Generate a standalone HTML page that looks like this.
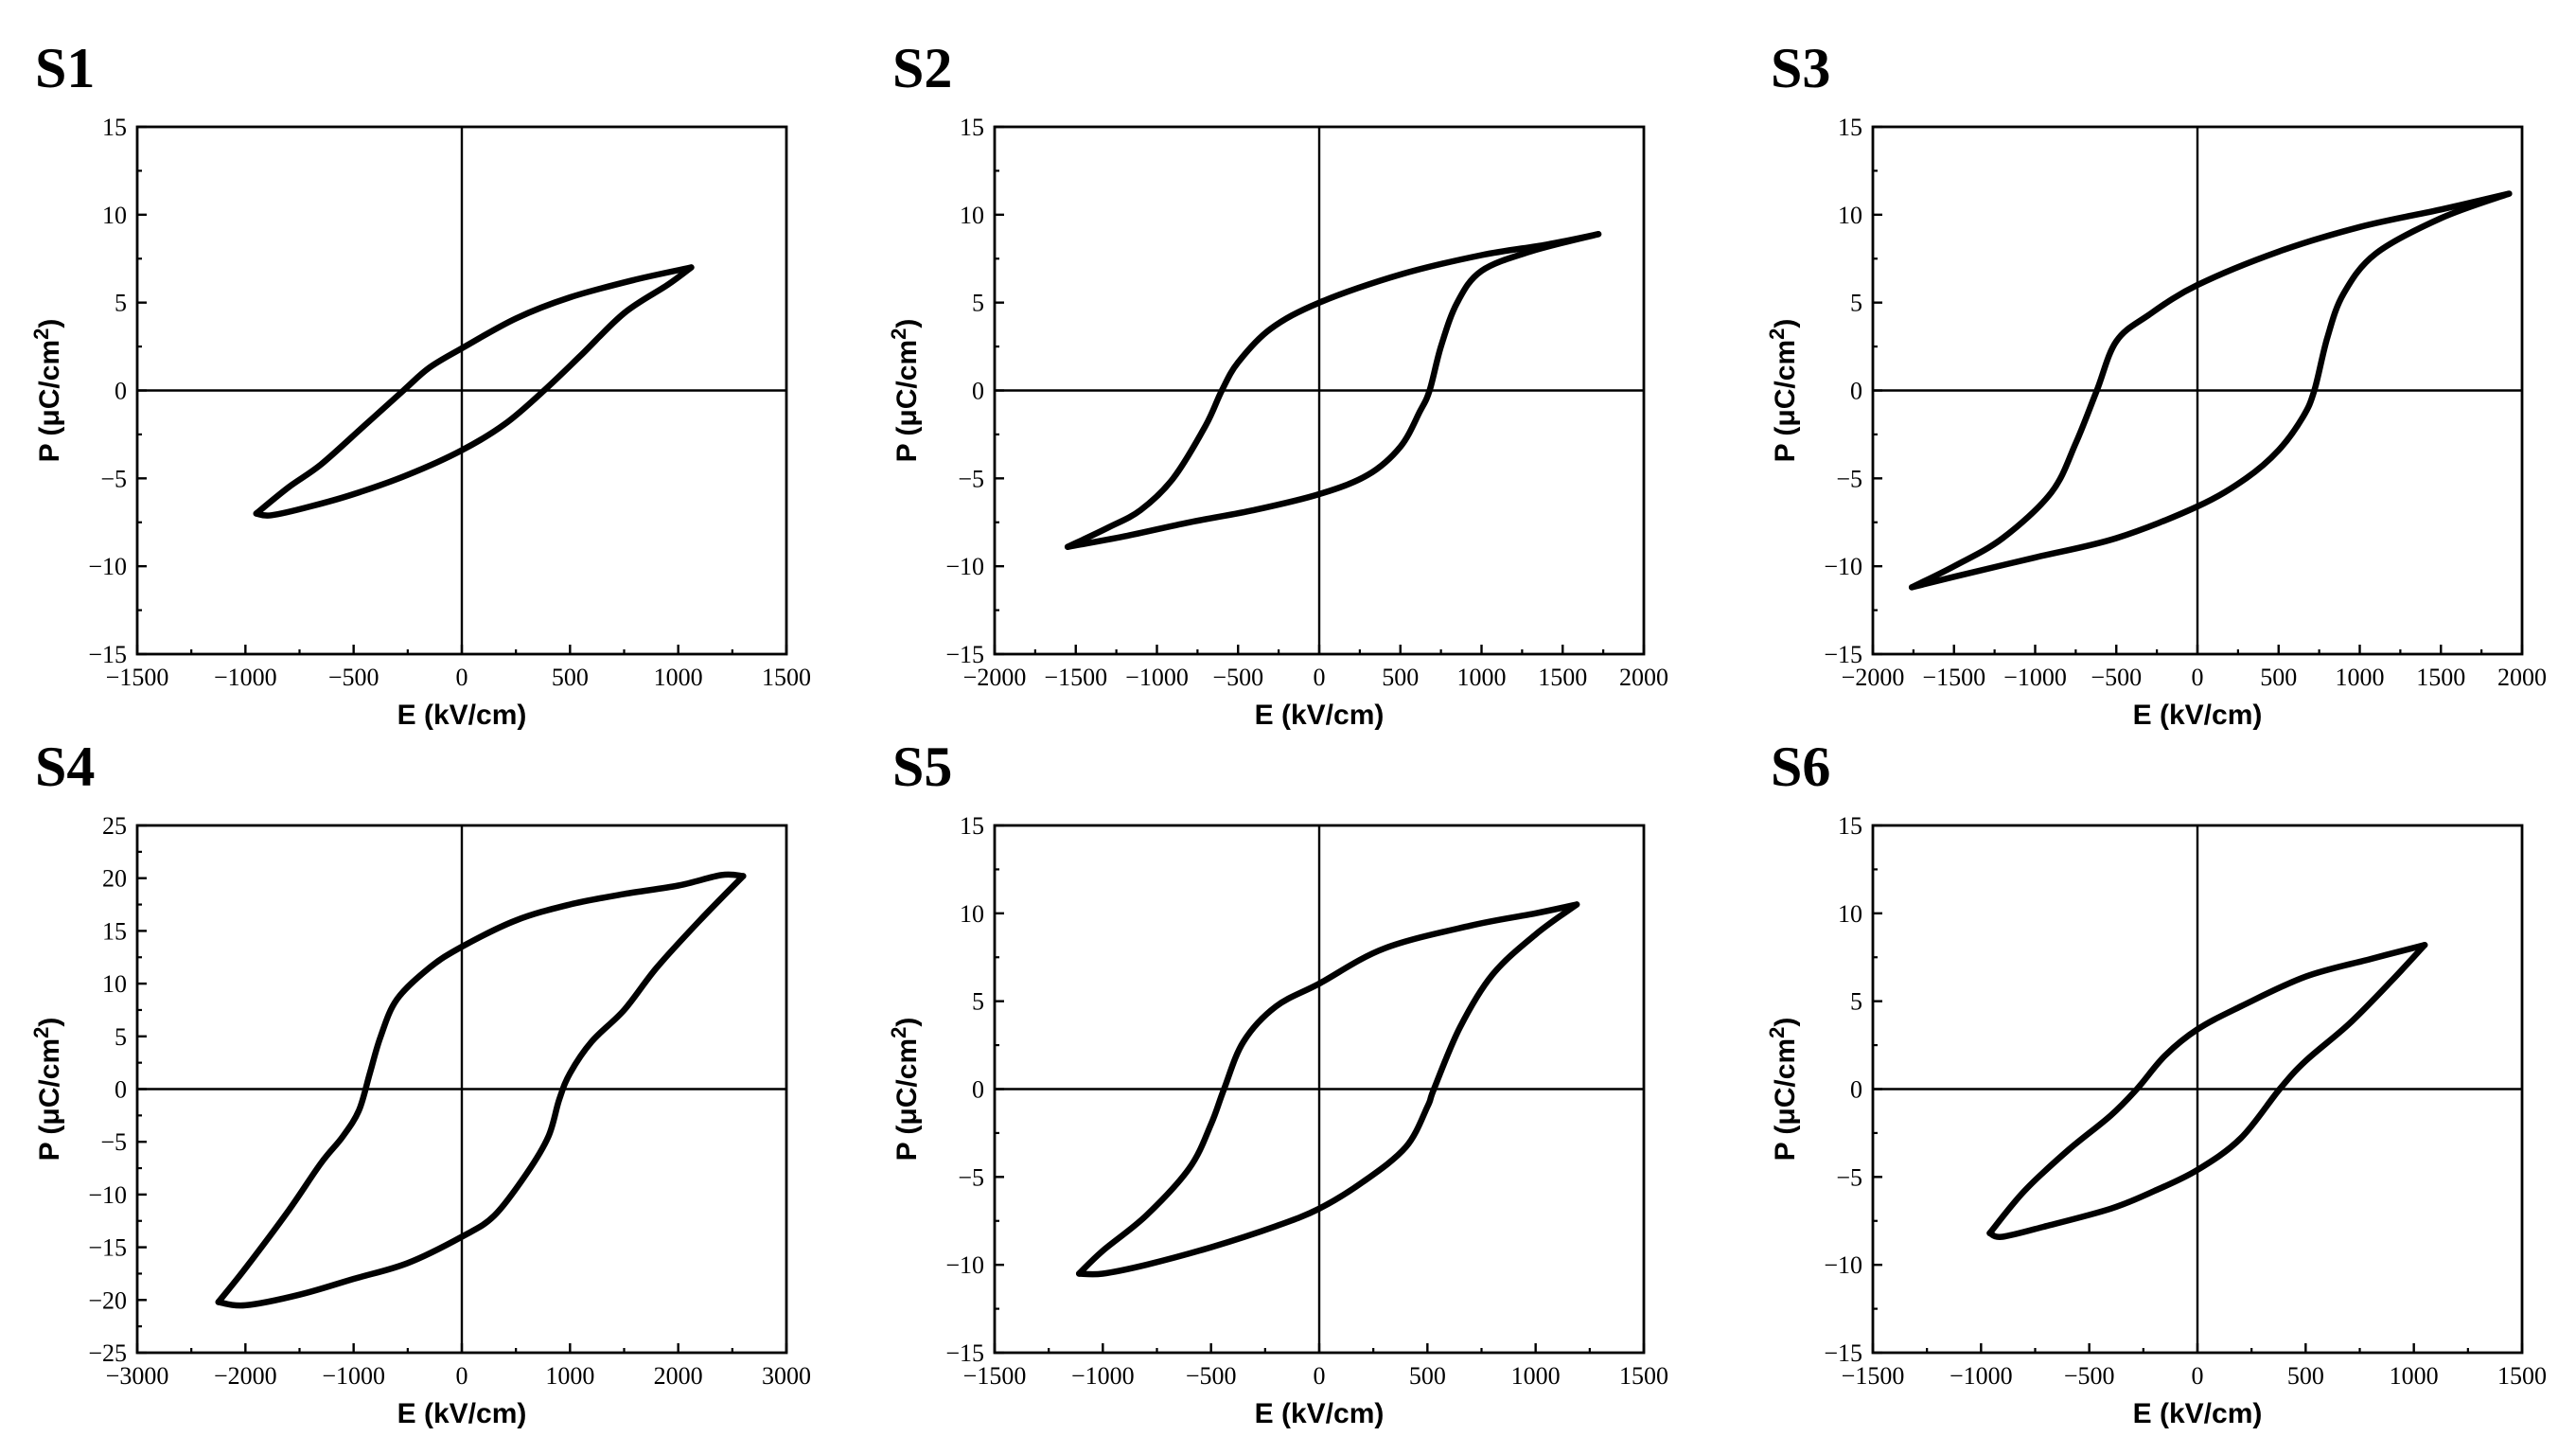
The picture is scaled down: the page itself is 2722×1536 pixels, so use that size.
<!DOCTYPE html>
<html><head><meta charset="utf-8"><style>
html,body{margin:0;padding:0;background:#fff;}
svg{display:block;}
</style></head><body>
<svg id="fig" width="2722" height="1536" viewBox="0 0 2722 1536" xmlns="http://www.w3.org/2000/svg"></svg>
<script>
// ---- data ----
const s1E_up=[1060,800,500,250,0,-150,-270,-450,-650,-800,-950];
const s1P_up=[7,6.3,5.3,4.1,2.4,1.3,0,-2,-4.2,-5.5,-7];
const s1E_lo=[-950,-880,-700,-500,-250,0,200,380,550,750,950,1060];
const s1P_lo=[-7,-7.1,-6.6,-5.9,-4.8,-3.4,-1.9,0,2,4.4,6,7];

const s2E_up=[1720,1400,1000,500,0,-300,-500,-600,-700,-900,-1100,-1300,-1550];
const s2P_up=[8.9,8.3,7.7,6.6,5,3.5,1.6,0,-2,-5,-6.8,-7.8,-8.9];
const s2E_lo=[-1550,-1200,-800,-400,0,300,500,620,680,750,850,1000,1300,1720];
const s2P_lo=[-8.9,-8.3,-7.5,-6.8,-5.9,-4.8,-3.2,-1.2,0,2.5,5,6.8,7.9,8.9];

const s3E_up=[1920,1500,1000,500,0,-300,-500,-620,-750,-900,-1200,-1500,-1760];
const s3P_up=[11.2,10.3,9.3,7.9,6,4.3,2.8,0,-3,-5.8,-8.4,-10,-11.2];
const s3E_lo=[-1760,-1500,-1000,-500,0,300,500,650,720,800,900,1100,1500,1920];
const s3P_lo=[-11.2,-10.6,-9.5,-8.4,-6.6,-5,-3.4,-1.5,0,3,5.5,7.8,9.8,11.2];

const s4E_up=[2600,2400,2000,1500,1000,500,0,-300,-600,-750,-850,-950,-1100,-1300,-1600,-2000,-2250];
const s4P_up=[20.2,20.3,19.3,18.5,17.5,16,13.5,11.5,8.5,5,1.5,-2,-4.5,-7,-11.5,-17,-20.2];
const s4E_lo=[-2250,-2000,-1500,-1000,-500,0,300,600,800,900,1000,1200,1500,1800,2200,2600];
const s4P_lo=[-20.2,-20.5,-19.5,-18,-16.5,-14,-12,-8,-4.5,-1,1.5,4.5,7.5,11.5,16,20.2];

const s5E_up=[1190,1000,700,300,0,-200,-350,-440,-500,-600,-800,-1000,-1110];
const s5P_up=[10.5,10,9.3,8,6,4.7,2.7,0,-2,-4.5,-7.2,-9.2,-10.5];
const s5E_lo=[-1110,-1000,-800,-500,-200,0,200,400,500,530,650,800,1000,1190];
const s5P_lo=[-10.5,-10.5,-10,-9,-7.8,-6.8,-5.3,-3.3,-1,0,3.5,6.5,8.8,10.5];

const s6E_up=[1050,800,500,200,0,-150,-280,-400,-600,-800,-960];
const s6P_up=[8.2,7.4,6.4,4.7,3.4,1.9,0,-1.5,-3.5,-5.8,-8.2];
const s6E_lo=[-960,-900,-700,-400,-200,0,200,380,500,700,900,1050];
const s6P_lo=[-8.2,-8.4,-7.8,-6.8,-5.8,-4.6,-2.8,0,1.6,3.7,6.2,8.2];

const xTicks15=[-1500,-1000,-500,0,500,1000,1500];
const xTicks20=[-2000,-1500,-1000,-500,0,500,1000,1500,2000];
const xTicks30=[-3000,-2000,-1000,0,1000,2000,3000];
const yTicks15=[-15,-10,-5,0,5,10,15];
const yTicks25=[-25,-20,-15,-10,-5,0,5,10,15,20,25];
const panelNames=["S1","S2","S3","S4","S5","S6"];

// ---- layout ----
const NS="http://www.w3.org/2000/svg";
const svg=document.getElementById('fig');
const cols=[[145,831],[1051,1737],[1979,2665]];
const rows=[[134,691],[872,1429]];
const panels=[
 {eu:s1E_up,pu:s1P_up,el:s1E_lo,pl:s1P_lo,xt:xTicks15,yt:yTicks15},
 {eu:s2E_up,pu:s2P_up,el:s2E_lo,pl:s2P_lo,xt:xTicks20,yt:yTicks15},
 {eu:s3E_up,pu:s3P_up,el:s3E_lo,pl:s3P_lo,xt:xTicks20,yt:yTicks15},
 {eu:s4E_up,pu:s4P_up,el:s4E_lo,pl:s4P_lo,xt:xTicks30,yt:yTicks25},
 {eu:s5E_up,pu:s5P_up,el:s5E_lo,pl:s5P_lo,xt:xTicks15,yt:yTicks15},
 {eu:s6E_up,pu:s6P_up,el:s6E_lo,pl:s6P_lo,xt:xTicks15,yt:yTicks15}
];
function mk(tag,attrs,parent){const e=document.createElementNS(NS,tag);for(const k in attrs)e.setAttribute(k,attrs[k]);(parent||svg).appendChild(e);return e;}
function fmt(v){return v<0?'\u2212'+Math.abs(v):''+v;}
function smooth(pts){
 let d='M'+pts[0][0].toFixed(1)+','+pts[0][1].toFixed(1);
 for(let i=0;i<pts.length-1;i++){
  const p0=pts[Math.max(0,i-1)],p1=pts[i],p2=pts[i+1],p3=pts[Math.min(pts.length-1,i+2)];
  const c1=[p1[0]+(p2[0]-p0[0])/6,p1[1]+(p2[1]-p0[1])/6];
  const c2=[p2[0]-(p3[0]-p1[0])/6,p2[1]-(p3[1]-p1[1])/6];
  d+=' C'+c1[0].toFixed(1)+','+c1[1].toFixed(1)+' '+c2[0].toFixed(1)+','+c2[1].toFixed(1)+' '+p2[0].toFixed(1)+','+p2[1].toFixed(1);
 }
 return d;
}
panels.forEach((p,i)=>{
 const [x0,x1]=cols[i%3],[y0,y1]=rows[Math.floor(i/3)];
 const g=mk('g',{});
 
 
 const xmin=p.xt[0],xmax=p.xt[p.xt.length-1],ymin=p.yt[0],ymax=p.yt[p.yt.length-1];
 const sx=v=>x0+(v-xmin)/(xmax-xmin)*(x1-x0);
 const sy=v=>y1-(v-ymin)/(ymax-ymin)*(y1-y0);
 const lab=mk('text',{x:x0-108,y:y0-42,'font-family':'Liberation Serif, serif','font-weight':'bold','font-size':60},g);
 lab.textContent=panelNames[i];
 
 
 const zx=mk('line',{x1:sx(0),x2:sx(0),y1:y0,y2:y1,stroke:'#000','stroke-width':2.4},g);
 
 
 const zy=mk('line',{x1:x0,x2:x1,y1:sy(0),y2:sy(0),stroke:'#000','stroke-width':2.4},g);
 
 
 const fr=mk('rect',{x:x0,y:y0,width:x1-x0,height:y1-y0,fill:'none',stroke:'#000','stroke-width':2.8},g);
 
 
 p.xt.forEach((v,k)=>{
  const X=sx(v);
  mk('line',{x1:X,x2:X,y1:y1,y2:y1-10,stroke:'#000','stroke-width':2.4},g);
  if(k<p.xt.length-1){const m=sx(v+(p.xt[1]-p.xt[0])/2);mk('line',{x1:m,x2:m,y1:y1,y2:y1-5,stroke:'#000','stroke-width':2.2},g);}
  const t=mk('text',{x:X,y:y1+33,'text-anchor':'middle','font-family':'Liberation Serif, serif','font-size':26},g);
  t.textContent=fmt(v);
  
  
 });
 p.yt.forEach((v,k)=>{
  const Y=sy(v);
  mk('line',{x1:x0,x2:x0+10,y1:Y,y2:Y,stroke:'#000','stroke-width':2.4},g);
  if(k<p.yt.length-1){const m=sy(v+(p.yt[1]-p.yt[0])/2);mk('line',{x1:m?x0:x0,x2:x0+5,y1:m,y2:m,stroke:'#000','stroke-width':2.2},g);}
  const t=mk('text',{x:x0-11,y:Y+9,'text-anchor':'end','font-family':'Liberation Serif, serif','font-size':26},g);
  t.textContent=fmt(v);
  
  
 });
 const xtT=mk('text',{x:(x0+x1)/2,y:y1+74,'text-anchor':'middle','font-family':'Liberation Sans, sans-serif','font-weight':'bold','font-size':30},g);
 xtT.textContent='E (kV/cm)';
 
 
 const cy=(y0+y1)/2;
 const ytT=mk('text',{x:x0-83,y:cy,'text-anchor':'middle','font-family':'Liberation Sans, DejaVu Sans, sans-serif','font-weight':'bold','font-size':30,transform:'rotate(-90 '+(x0-83)+' '+cy+')'},g);
 ytT.innerHTML='P (\u03bcC/cm<tspan dy="-11" font-size="22">2</tspan><tspan dy="11">)</tspan>';
 
 
 const up=p.eu.map((e,k)=>[sx(e),sy(p.pu[k])]);
 const lo=p.el.map((e,k)=>[sx(e),sy(p.pl[k])]);
 const a=mk('path',{d:smooth(up),fill:'none',stroke:'#000','stroke-width':6.5,'stroke-linejoin':'round','stroke-linecap':'round'},g);
 
 
 const b=mk('path',{d:smooth(lo),fill:'none',stroke:'#000','stroke-width':6.5,'stroke-linejoin':'round','stroke-linecap':'round'},g);
 
 
});
</script>
</body></html>
